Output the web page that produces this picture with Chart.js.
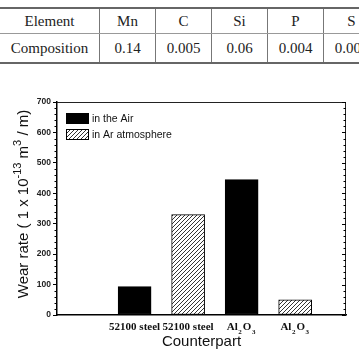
<!DOCTYPE html>
<html>
<head>
<meta charset="utf-8">
<script src="https://cdn.jsdelivr.net/npm/chart.js@4.4.1/dist/chart.umd.min.js"></script>
<style>
  html, body { margin: 0; padding: 0; background: #fff; }
  body { width: 359px; height: 354px; overflow: hidden; position: relative; }
  #comp {
    position: absolute; top: 7px; left: 0; width: 374px;
    border-collapse: collapse; table-layout: fixed;
    font-family: "Liberation Serif", "Times New Roman", serif; font-size: 15px; color: #222;
  }
  #comp td { text-align: center; vertical-align: middle; padding: 0; border-left: 1px solid #777; white-space: nowrap; overflow: hidden; }
  #comp td:first-child { border-left: none; }
  #comp tr:first-child td { height: 24px; border-top: 2px solid #666; border-bottom: 1px solid #999; }
  #comp tr:last-child td { height: 28px; border-bottom: 2px solid #666; }
  #wrap { position: absolute; top: 0; left: 0; width: 359px; height: 354px; }
</style>
</head>
<body>
<table id="comp"></table>
<div id="wrap"><canvas id="wearChart" width="359" height="354"></canvas></div>
<script>
// ---- table data ----
const elements = ['Element', 'Mn', 'C', 'Si', 'P', 'S'];
const composition = ['Composition', '0.14', '0.005', '0.06', '0.004', '0.008'];
const colWidths = [99, 55, 55, 55, 55, 55];

// ---- chart data ----
const positions = [1, 2, 3, 4];
const counterparts = ['52100 steel', '52100 steel', 'Al_2O_3', 'Al_2O_3'];   // _n = subscript
const airRate = [93, null, 445, null];
const arRate = [null, 330, null, 50];
const yTicks = [0, 100, 200, 300, 400, 500, 600, 700];
const seriesNames = ['in the Air', 'in Ar atmosphere'];
const yTitle = [['Wear rate ( 1 x 10', 0], ['-13', 1], [' m', 0], ['3', 1], [' / m)', 0]];

// build the table
const table = document.getElementById('comp');
[elements, composition].forEach(row => {
    const tr = document.createElement('tr');
    row.forEach((txt, i) => {
        const td = document.createElement('td');
        td.style.width = colWidths[i] + 'px';
        td.textContent = txt;
        tr.appendChild(td);
    });
    table.appendChild(tr);
});

const canvas = document.getElementById('wearChart');
const ctx = canvas.getContext('2d');

// hatch pattern (/ lines)
function makeHatch() {
    const s = 4;
    const c = document.createElement('canvas');
    c.width = s; c.height = s;
    const g = c.getContext('2d');
    g.fillStyle = '#fff';
    g.fillRect(0, 0, s, s);
    g.strokeStyle = '#000';
    g.lineWidth = 0.8;
    g.beginPath();
    g.moveTo(0, s); g.lineTo(s, 0);
    g.moveTo(-1, 1); g.lineTo(1, -1);
    g.moveTo(s - 1, s + 1); g.lineTo(s + 1, s - 1);
    g.stroke();
    return ctx.createPattern(c, 'repeat');
}
const hatch = makeHatch();

const toPoints = arr => positions.map((x, i) => ({ x: x, y: arr[i] })).filter(p => p.y !== null);

// extras: frame, minor ticks, legend, x labels with subscripts, y title with superscripts
const extras = {
    id: 'extras',
    afterDraw(chart) {
        const c = chart.ctx;
        const a = chart.chartArea;
        const y = chart.scales.y;
        const x = chart.scales.x;
        c.save();
        c.strokeStyle = '#222';
        c.lineWidth = 1;
        c.beginPath();
        c.moveTo(a.left, a.top + 0.5); c.lineTo(a.right, a.top + 0.5);
        c.moveTo(a.right - 0.5, a.top); c.lineTo(a.right - 0.5, a.bottom);
        c.stroke();
        // ticks
        c.strokeStyle = '#000';
        c.beginPath();
        for (let v = 0; v <= 700; v += 20) {
            const py = Math.round(y.getPixelForValue(v)) + 0.5;
            const major = v % 100 === 0;
            if (!major) { c.moveTo(a.left - 2.5, py); c.lineTo(a.left, py); }
            c.moveTo(a.right - (major ? 4 : 2.5), py); c.lineTo(a.right, py);
        }
        c.stroke();

        // legend inside the plot
        chart.data.datasets.forEach((ds, i) => {
            const bx = a.left + 9, by = a.top + 11 + i * 16;
            c.fillStyle = ds.backgroundColor;
            c.fillRect(bx, by, 23, 11);
            c.strokeStyle = '#000';
            c.strokeRect(bx + 0.5, by + 0.5, 22, 10);
            c.fillStyle = '#111';
            c.font = '10.5px "Liberation Sans"';
            c.textBaseline = 'middle';
            c.fillText(ds.label, bx + 26, by + 6);
        });

        // x labels
        c.fillStyle = '#111';
        c.textBaseline = 'alphabetic';
        counterparts.forEach((lab, i) => {
            const parts = lab.split(/_(\d)/);
            const segs = parts.map((t, k) => ({ t: t, sub: k % 2 === 1 })).filter(s => s.t);
            let w = 0;
            segs.forEach(s => {
                c.font = s.sub ? 'bold 7px "Liberation Serif"' : 'bold 11px "Liberation Serif"';
                s.w = c.measureText(s.t).width + (s.sub ? 1.5 : 0);
                w += s.w;
            });
            let cx = x.getPixelForValue(positions[i]) - w / 2;
            segs.forEach(s => {
                c.font = s.sub ? 'bold 7px "Liberation Serif"' : 'bold 11px "Liberation Serif"';
                c.fillText(s.t, cx + (s.sub ? 0.5 : 0), s.sub ? 334 : 330);
                cx += s.w;
            });
        });

        // y title
        c.translate(19, 204);
        c.rotate(-Math.PI / 2);
        c.fillStyle = '#111';
        let total = 0;
        yTitle.forEach(seg => {
            c.font = seg[1] ? '11px "Liberation Sans"' : '15px "Liberation Sans"';
            total += c.measureText(seg[0]).width;
        });
        let tx = -total / 2;
        c.textBaseline = 'middle';
        yTitle.forEach(seg => {
            c.font = seg[1] ? '11px "Liberation Sans"' : '15px "Liberation Sans"';
            c.fillText(seg[0], tx, seg[1] ? -1 : 5);
            tx += c.measureText(seg[0]).width;
        });
        c.restore();
    }
};

const wearConfig = {
    type: 'bar',
    data: {
        datasets: [{
            label: seriesNames[0],
            data: toPoints(airRate),
            backgroundColor: '#000',
            borderColor: '#000',
            borderWidth: 1
        }, {
            label: seriesNames[1],
            data: toPoints(arRate),
            backgroundColor: hatch,
            borderColor: '#000',
            borderWidth: 1
        }]
    },
    options: {
        responsive: false,
        animation: false,
        layout: { padding: { top: 102, right: 13, left: 0, bottom: 0 } },
        datasets: { bar: { grouped: false, barThickness: 33, borderSkipped: false } },
        plugins: {
            legend: { display: false },
            tooltip: { enabled: false }
        },
        scales: {
            x: {
                type: 'linear', min: 0, max: 4.5,
                grid: { display: false },
                border: { color: '#000', width: 1.5 },
                ticks: { display: false },
                title: {
                    display: true, text: 'Counterpart', color: '#111',
                    font: { family: '"Liberation Sans", Arial', size: 15 },
                    padding: { top: 4, bottom: 3 }
                },
                afterFit: s => { s.height = 39; }
            },
            y: {
                min: 0, max: 700,
                afterBuildTicks: s => { s.ticks = yTicks.map(v => ({ value: v })); },
                grid: { drawOnChartArea: false, tickLength: 4, color: '#000' },
                border: { color: '#000', width: 1.5 },
                ticks: {
                    padding: 2, color: '#222',
                    font: { family: '"Liberation Sans", Arial', size: 8.5, weight: 'bold' }
                },
                afterFit: s => { s.width = 57; }
            }
        }
    },
    plugins: [extras]
};

const wearChart = new Chart(ctx, wearConfig);
</script>
</body>
</html>
